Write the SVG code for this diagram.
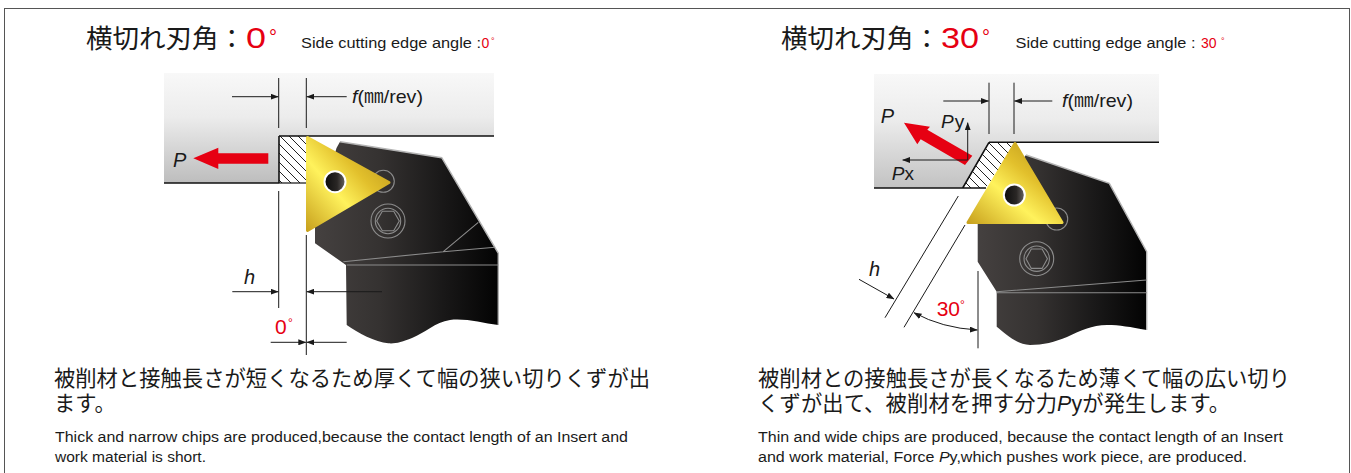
<svg xmlns="http://www.w3.org/2000/svg" width="1351" height="473" viewBox="0 0 1351 473">
<style>
text{font-family:"Liberation Sans","Noto Sans CJK JP",sans-serif;fill:#1a1a1a}
.jp{font-family:"Noto Sans CJK JP","Liberation Sans",sans-serif;font-size:21.3px}
.ti{font-family:"Noto Sans CJK JP","Liberation Sans",sans-serif;font-size:26.5px}
.en{font-size:15.200px}
.sm{font-size:15.200px}
.lb{font-size:20px;font-style:italic}
.red{fill:#e60012}
.dim{fill:none;stroke:#1a1a1a;stroke-width:1}
.arr{marker-end:url(#a)}
.edge{fill:none;stroke:#111;stroke-width:1.6}
.hl{fill:none;stroke:#8c8c8c;stroke-width:1.1}
.hold{fill:url(#h);stroke:none}
.rim{fill:none;stroke:#b4b4b4;stroke-width:1.4}
.ins{stroke:url(#g);stroke-width:3;stroke-linejoin:round;fill:url(#g)}
.hole{fill:url(#k);stroke:#fff;stroke-width:2}
.fw{fill:#e60012}
</style>
<defs>
<marker id="a" markerUnits="userSpaceOnUse" markerWidth="8" markerHeight="6" refX="7.5" refY="3" orient="auto"><path d="M0 0L8 3L0 6Z" fill="#1a1a1a"/></marker>
<marker id="b" markerUnits="userSpaceOnUse" markerWidth="8" markerHeight="6" refX="0.5" refY="3" orient="auto"><path d="M8 0L0 3L8 6Z" fill="#1a1a1a"/></marker>
<linearGradient id="w" x1="0" y1="0" x2="0" y2="1"><stop offset="0" stop-color="#f8f8f8"/><stop offset=".4" stop-color="#ececec"/><stop offset="1" stop-color="#bdbdbd"/></linearGradient>
<linearGradient id="w2" x1="0" y1="0" x2="0" y2="1"><stop offset="0" stop-color="#f8f8f8"/><stop offset=".4" stop-color="#ececec"/><stop offset="1" stop-color="#c2c2c2"/></linearGradient>
<linearGradient id="h" x1="0" y1="0" x2="1" y2="0"><stop offset="0" stop-color="#454140"/><stop offset=".35" stop-color="#353231"/><stop offset=".7" stop-color="#191818"/><stop offset="1" stop-color="#030303"/></linearGradient>
<linearGradient id="g" gradientUnits="objectBoundingBox" x1="0" y1="1" x2="1" y2="0"><stop offset="0" stop-color="#c9a21e"/><stop offset=".38" stop-color="#fff25c"/><stop offset=".62" stop-color="#e2c02c"/><stop offset="1" stop-color="#b28c16"/></linearGradient>
<linearGradient id="k" x1="0" y1="0" x2="1" y2="0"><stop offset="0" stop-color="#0c0c0c"/><stop offset=".6" stop-color="#2a2725"/><stop offset="1" stop-color="#6a6562"/></linearGradient>
<pattern id="p" width="9" height="9" patternUnits="userSpaceOnUse"><rect width="9" height="9" fill="#fff"/><path d="M-1 -1L10 10M-1 8L1 10M8 -1L10 1" stroke="#222" stroke-width="1"/></pattern>
</defs>
<rect id="frame" x="4.500" y="8.500" width="1345" height="480" fill="#fff" stroke="#555" stroke-width="1"/>

<g id="left-panel">
<g id="left-title">
<text class="ti" x="86" y="48">横切れ刃角：</text>
<text class="red" x="246" y="48" font-size="29.500" textLength="20" lengthAdjust="spacingAndGlyphs">0</text>
<text class="red" x="269" y="44" font-size="20">°</text>
<text class="sm" x="301" y="48.300" textLength="180" lengthAdjust="spacingAndGlyphs">Side cutting edge angle : </text>
<text class="red" x="481.500" y="48.300" font-size="14">0</text>
<text class="red" x="491" y="44" font-size="9">°</text>
</g>
<g id="left-workpiece">
<path d="M164 73H494V136H279V183H164Z" fill="url(#w)"/>
<rect x="279" y="136" width="28" height="47" fill="url(#p)"/>
<path class="edge" d="M279 136H494M164 183H279M279 136V183"/>
<path d="M279 183H306" stroke="#111" stroke-width="1.200"/>
</g>
<g id="left-holder">
<path class="hold" d="M336.500 148L340 141.700L441.700 157.700L498.300 253.300V325C482 323 465 318 450 320C435 322 425 333 412 338C402 342 395 344 388.300 343.300C375 342 358 333 346.700 325L346 265L315 243.300V225L336.500 148Z"/>
<path class="rim" d="M340 141.700L441.700 157.700L498.300 253.300V325"/>
<path class="hl" d="M443.300 251.700L478.300 222.300M343.300 261.700L443.300 251.700L495 247.300M346.700 265H498.300"/>
<circle class="hl" cx="383.300" cy="181.300" r="11"/>
<circle class="hl" cx="388" cy="221" r="17"/><circle class="hl" cx="388" cy="221" r="12.700"/>
<path class="hl" d="M376.700 221L382.300 211.200H393.700L399.300 221L393.700 230.800H382.300Z"/>
</g>
<g id="left-insert">
<path class="ins" d="M307.500 137.500L389 182.500L307.500 230.500Z"/>
<circle class="hole" cx="335" cy="181.700" r="10.500"/>
</g>
<g id="left-connectors">
<path class="dim" d="M278.700 78V128M306.300 78V128M278.700 191V308M306.300 235V355"/>
<path class="dim arr" d="M232 96.700H278.200"/><path class="dim arr" d="M346.700 96.700H306.800"/>
<path class="dim arr" d="M232.300 291.700H278.200"/><path class="dim arr" d="M382 291.700H306.800"/>
<path class="dim arr" d="M270.700 342.300H305.800"/><path class="dim arr" d="M346.700 342.300H306.800"/>
<path class="fw" d="M193.300 158.300L218.300 147.700V153.300H268.300V163.700H218.300V169Z"/>
</g>
<g id="left-labels">
<text class="lb" x="173" y="167">P</text>
<text x="352" y="102.700" font-size="19" textLength="71" lengthAdjust="spacingAndGlyphs"><tspan font-style="italic">f</tspan>(㎜/rev)</text>
<text class="lb" x="244" y="284">h</text>
<text class="red" x="275" y="334" font-size="21">0</text>
<text class="red" x="288" y="327" font-size="12">°</text>
</g>
<g id="left-text">
<text class="jp" x="54" y="386" textLength="596">被削材と接触長さが短くなるため厚くて幅の狭い切りくずが出</text>
<text class="jp" x="54" y="411">ます。</text>
<text class="en" x="55" y="441.500" textLength="573" lengthAdjust="spacingAndGlyphs">Thick and narrow chips are produced,because the contact length of an Insert and</text>
<text class="en" x="55" y="461.500" textLength="151" lengthAdjust="spacingAndGlyphs">work material is short.</text>
</g>
</g>

<g id="right-panel">
<g id="right-title">
<text class="ti" x="781" y="48">横切れ刃角：</text>
<text class="red" x="941" y="48" font-size="29.500" textLength="38" lengthAdjust="spacingAndGlyphs">30</text>
<text class="red" x="982" y="44" font-size="20">°</text>
<text class="sm" x="1015.500" y="48.300" textLength="180" lengthAdjust="spacingAndGlyphs">Side cutting edge angle : </text>
<text class="red" x="1201" y="48.300" font-size="14">30</text>
<text class="red" x="1221" y="44" font-size="9">°</text>
</g>
<g id="right-workpiece">
<path d="M874 74H1159V142.300H989L962.700 188H874Z" fill="url(#w2)"/>
<path d="M989 142.300H1016L986 188H962.700Z" fill="url(#p)"/>
<path class="edge" d="M989 142.300H1159M874 188H986M989 142.300L962.700 188"/>
</g>
<g id="right-holder">
<path class="hold" d="M1026 155L1109.300 183.300L1146.700 251.700V330C1130 327 1120 325 1107 325C1092 325 1080 331 1067 337C1055 342 1043 345 1030 345C1015 344 1005 333 996.700 326.700V291.700L977.700 261.700V215L1026 155Z"/>
<path class="rim" d="M1026 155L1109.300 183.300L1146.700 251.700V330"/>
<path class="hl" d="M996.700 291.700L1146.700 280M996.700 292.700H1146.700"/>
<circle class="hl" cx="1056.700" cy="219" r="11"/>
<circle class="hl" cx="1036.700" cy="258.700" r="17"/><circle class="hl" cx="1036.700" cy="258.700" r="12.700"/>
<path class="hl" d="M1026 258.700L1031.300 249H1042.100L1047.400 258.700L1042.100 268.400H1031.300Z"/>
</g>
<g id="right-insert">
<path class="ins" d="M1015 143.500L1062 222.500H968Z"/>
<circle class="hole" cx="1014.300" cy="195" r="10.500"/>
</g>
<g id="right-connectors">
<path class="dim" d="M989 82.700V134M1014 82.700V134M958.300 196L885 317.700M965 225L904 327.300M978 271V348.300"/>
<path class="dim arr" d="M943.300 101H988.500"/><path class="dim arr" d="M1052.300 101H1014.500"/>
<path class="dim arr" d="M859 279.300L894 299"/>
<path class="fw" d="M904 122.700L930 126.700L927.300 129.700L972.300 155.700L965 165L920.700 139.300L917.300 144.300Z"/>
<path class="dim arr" d="M967.700 160V122.700"/><path class="dim arr" d="M967.700 160H902.700"/>
<path class="dim" marker-start="url(#b)" marker-end="url(#a)" d="M914 312.700Q942 328 977.300 330"/>
</g>
<g id="right-labels">
<text class="lb" x="880.700" y="123.300">P</text>
<text x="941" y="128" font-size="19"><tspan font-style="italic">P</tspan><tspan dx="1">y</tspan></text>
<text x="891.700" y="180" font-size="19"><tspan font-style="italic">P</tspan>x</text>
<text x="1062" y="106.700" font-size="19" textLength="71" lengthAdjust="spacingAndGlyphs"><tspan font-style="italic">f</tspan>(㎜/rev)</text>
<text class="lb" x="869" y="275.700">h</text>
<text class="red" x="936.700" y="315.700" font-size="21">30</text>
<text class="red" x="960" y="309" font-size="12">°</text>
</g>
<g id="right-text">
<text class="jp" x="758" y="386" textLength="532">被削材との接触長さが長くなるため薄くて幅の広い切り</text>
<text class="jp" x="758" y="411" textLength="472">くずが出て、被削材を押す分力<tspan font-family="Liberation Sans" font-style="italic">P</tspan><tspan font-family="Liberation Sans">y</tspan>が発生します。</text>
<text class="en" x="758" y="441.500" textLength="525" lengthAdjust="spacingAndGlyphs">Thin and wide chips are produced, because the contact length of an Insert</text>
<text class="en" x="758" y="461.500" textLength="489" lengthAdjust="spacingAndGlyphs">and work material, Force <tspan font-style="italic">P</tspan>y,which pushes work piece, are produced.</text>
</g>
</g>
</svg>
